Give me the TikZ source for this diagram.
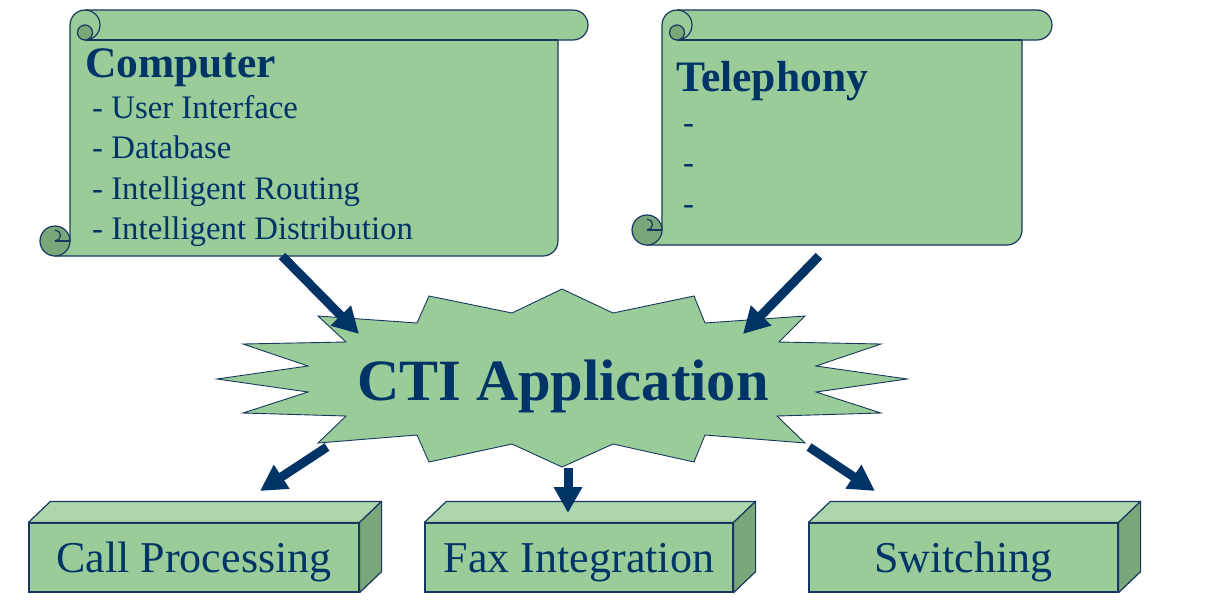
\documentclass[tikz,border=0pt]{standalone}
\usepackage{fontspec}
\setmainfont{Liberation Serif}
\usetikzlibrary{arrows.meta}

\definecolor{navy}{RGB}{0,51,102}
\definecolor{edgeblue}{RGB}{23,55,94}
\definecolor{leaf}{RGB}{153,204,153}
\definecolor{leafdark}{RGB}{122,166,122}
\definecolor{leaflight}{RGB}{173,214,173}

\tikzset{
  scrollbody/.style={fill=leaf,draw=edgeblue,line width=1.2pt},
  curl/.style={fill=leafdark,draw=edgeblue,line width=1.2pt},
  edgeline/.style={draw=edgeblue,line width=1.2pt},
  burst/.style={fill=leaf,draw=edgeblue,line width=0.9pt,line join=miter},
  bigarrow/.style={navy,line width=9pt,-{Triangle[length=26pt,width=27pt]}},
  frontface/.style={fill=leaf,draw=edgeblue,line width=1.2pt,minimum width=#1,
    minimum height=69pt,inner sep=0pt,text height=29pt,text depth=0pt,
    text=navy,font=\fontsize{44}{44}\selectfont},
  topface/.style={fill=leaflight,draw=edgeblue,line width=1.2pt,line join=round},
  sideface/.style={fill=leafdark,draw=edgeblue,line width=1.2pt,line join=round},
  heading/.style={anchor=base west,inner sep=0pt,text=navy,
    font=\fontsize{43.5}{43.5}\selectfont\bfseries},
  item/.style={anchor=base west,inner sep=0pt,text=navy,
    font=\fontsize{32.8}{32.8}\selectfont},
}

\begin{document}
\begin{tikzpicture}[x=1pt,y=-1pt]
\useasboundingbox (0,0) rectangle (1209,611);

% the two scrolls: left edge / right edge / bottom
\foreach \L/\R/\B in {70/558/256, 662/1022/245} {
  \draw[scrollbody] (\L,\B-15) -- (\L,25) arc[start angle=180,end angle=270,radius=15]
    -- (\R+15,10) arc[start angle=270,end angle=450,radius=15]
    -- (\R,40) -- (\R,\B-15) arc[start angle=0,end angle=90,radius=15]
    -- (\L-15,\B) -- (\L-15,\B-15) -- cycle;
  \draw[edgeline] (\R,40) -- (\L+15,40);
  % top curl
  \draw[edgeline] (\L+15,10) arc[start angle=270,end angle=450,radius=15];
  \draw[curl] (\L+15,32.5) circle[radius=7.5];
  % bottom curl
  \draw[curl] (\L-15,\B-15) circle[radius=15];
  \draw[edgeline] (\L-15,\B-15) -- (\L,\B-15);
  \draw[edgeline] (\L-15,\B-15) arc[start angle=90,end angle=-90,radius=5.5];
}

% scroll texts
\node[heading] (comp-title) at (85,77) {Computer};
\node[item] (comp-ui) at (92,118) {- User Interface};
\node[item] (comp-db) at (92,158.5) {- Database};
\node[item] (comp-route) at (92,199) {- Intelligent Routing};
\node[item] (comp-dist) at (92,239.5) {- Intelligent Distribution};

\node[heading] (tel-title) at (676,91) {Telephony};
\node[item] (tel-a) at (683,133) {-};
\node[item] (tel-b) at (683,173.5) {-};
\node[item] (tel-c) at (683,214) {-};

% starburst
\draw[burst] (562,289) -- (613,313) -- (694,296) -- (705,323) -- (805,316)
  -- (779,342) -- (881,344) -- (816,366) -- (907,379) -- (816,392)
  -- (881,413) -- (777,416) -- (805,443) -- (705,435) -- (694,462)
  -- (613,444) -- (562,467) -- (512,444) -- (429,462) -- (417,435)
  -- (318,443) -- (346,416) -- (243,413) -- (308,392) -- (217,379)
  -- (308,366) -- (243,344) -- (346,342) -- (318,316) -- (417,323)
  -- (429,296) -- (512,313) -- cycle;
\node[anchor=base,inner sep=0pt,text=navy,font=\fontsize{58.5}{58.5}\selectfont\bfseries]
  (cti) at (563,400) {CTI Application};

% bottom blocks
\node[frontface=330pt] (callbox) at (194,557.5) {Call Processing};
\node[frontface=308pt] (faxbox) at (579,557.5) {Fax Integration};
\node[frontface=309pt] (switchbox) at (963.5,557.5) {Switching};
\foreach \bx in {callbox,faxbox,switchbox} {
  \draw[topface] (\bx.north west) -- ++(22,-21)
    -- ([shift={(22,-21)}]\bx.north east) -- (\bx.north east) -- cycle;
  \draw[sideface] (\bx.north east) -- ++(22,-21)
    -- ([shift={(22,-21)}]\bx.south east) -- (\bx.south east) -- cycle;
}

% arrow ends
\coordinate (comp-out) at (282,256);
\coordinate (cti-in-l) at (359,334);
\coordinate (tel-out) at (819,256);
\coordinate (cti-in-r) at (743,334);
\coordinate (cti-out-l) at (327,447);
\coordinate (call-in) at (260,491);
\coordinate (cti-out-m) at (568,468);
\coordinate (fax-in) at (568,513);
\coordinate (cti-out-r) at (809,447);
\coordinate (switch-in) at (875,491);

\draw[bigarrow] (comp-out) -- (cti-in-l);
\draw[bigarrow] (tel-out) -- (cti-in-r);
\draw[bigarrow] (cti-out-l) -- (call-in);
\draw[bigarrow] (cti-out-m) -- (fax-in);
\draw[bigarrow] (cti-out-r) -- (switch-in);
\end{tikzpicture}
\end{document}
